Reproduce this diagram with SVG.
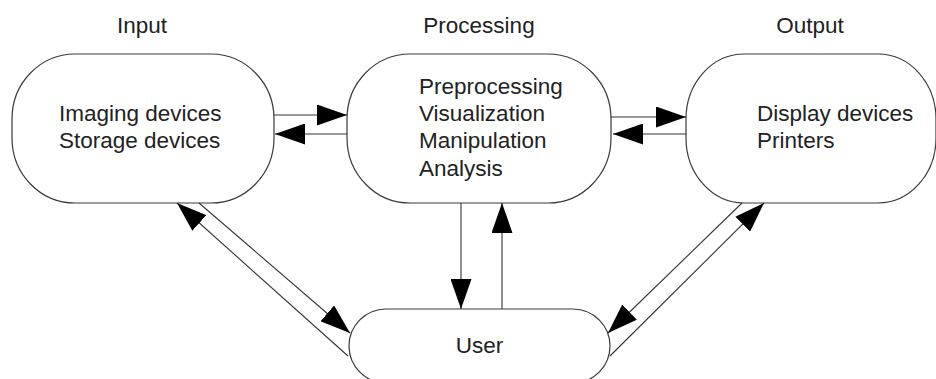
<svg xmlns="http://www.w3.org/2000/svg" width="936" height="379" viewBox="0 0 936 379">
<style>
.node{fill:#fff;stroke:#3a3a3a;stroke-width:1.2}
.t{font-family:"Liberation Sans",Arial,sans-serif;font-size:22.5px;fill:#222}
.c{stroke:#333;stroke-width:1.1;fill:none;marker-end:url(#ah)}
</style>
<defs>
<marker id="ah" markerUnits="userSpaceOnUse" markerWidth="30" markerHeight="21" refX="30" refY="10.5" orient="auto" viewBox="0 0 30 21">
<path d="M0,0 L30,10.5 L0,21 z" fill="#000"/>
</marker>
</defs>
<g id="titles">
<text class="t" x="142" y="33" text-anchor="middle">Input</text>
<text class="t" x="479" y="33" text-anchor="middle">Processing</text>
<text class="t" x="810" y="33" text-anchor="middle">Output</text>
</g>
<g id="input">
<rect class="node" x="12" y="54" width="262" height="149" rx="63" ry="65"/>
<text class="t" x="59" y="121">Imaging devices</text>
<text class="t" x="59" y="148">Storage devices</text>
</g>
<g id="processing">
<rect class="node" x="347" y="54" width="264" height="149" rx="63" ry="65"/>
<text class="t" x="419" y="94">Preprocessing</text>
<text class="t" x="419" y="121">Visualization</text>
<text class="t" x="419" y="148">Manipulation</text>
<text class="t" x="419" y="176">Analysis</text>
</g>
<g id="output">
<rect class="node" x="686" y="54" width="250" height="149" rx="58" ry="65"/>
<text class="t" x="757" y="121">Display devices</text>
<text class="t" x="757" y="148">Printers</text>
</g>
<g id="user">
<rect class="node" x="349" y="309" width="261" height="74" rx="37" ry="37"/>
<text class="t" x="479.5" y="353" text-anchor="middle">User</text>
</g>
<g id="connectors">
<line class="c" x1="274" y1="115" x2="347" y2="115"/>
<line class="c" x1="347" y1="134" x2="275" y2="134"/>
<line class="c" x1="611" y1="117" x2="686" y2="117"/>
<line class="c" x1="686" y1="134" x2="613" y2="134"/>
<line class="c" x1="461" y1="203" x2="461" y2="309"/>
<line class="c" x1="502" y1="309" x2="502" y2="203"/>
<line class="c" x1="348" y1="356" x2="177" y2="203"/>
<line class="c" x1="199" y1="203" x2="350" y2="333"/>
<line class="c" x1="742" y1="203" x2="608" y2="333"/>
<line class="c" x1="610" y1="356" x2="764" y2="203"/>
</g>
</svg>
